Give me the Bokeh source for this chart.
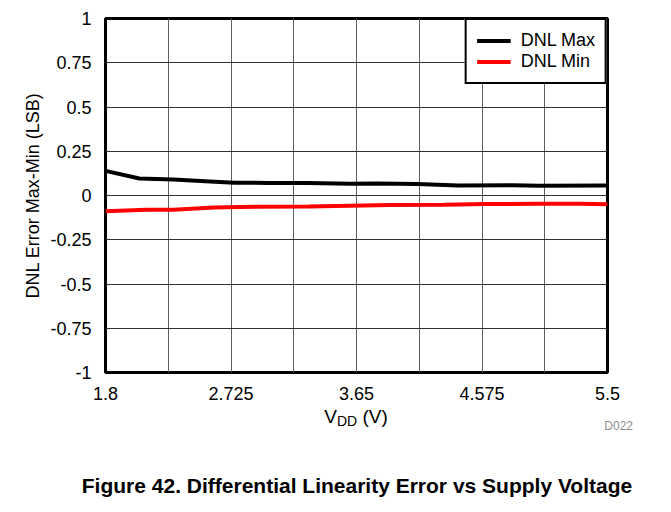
from bokeh.plotting import figure
from bokeh.models import FixedTicker, Legend, LegendItem, Range1d, Div
from bokeh.layouts import column
from bokeh.embed import file_html
from bokeh.resources import INLINE

# ---- data ----
vdd_max = [1.8, 2.05, 2.3, 2.5, 2.75, 3.0, 3.3, 3.6, 3.8, 4.1, 4.4, 4.8, 5.0, 5.5]
dnl_max = [0.139, 0.096, 0.090, 0.082, 0.072, 0.071, 0.070, 0.066, 0.068, 0.065, 0.057, 0.058, 0.055, 0.056]
vdd_min = [1.8, 2.1, 2.3, 2.6, 2.9, 3.3, 3.6, 3.9, 4.3, 4.6, 5.0, 5.3, 5.5]
dnl_min = [-0.089, -0.080, -0.080, -0.068, -0.063, -0.062, -0.058, -0.054, -0.052, -0.048, -0.047, -0.046, -0.050]

x_labels = [1.8, 2.725, 3.65, 4.575, 5.5]
x_grid = [1.8, 2.2625, 2.725, 3.1875, 3.65, 4.1125, 4.575, 5.0375, 5.5]
y_ticks = [-1, -0.75, -0.5, -0.25, 0, 0.25, 0.5, 0.75, 1]

title_text = "Figure 42. Differential Linearity Error vs Supply Voltage"
y_title = "DNL Error Max-Min (LSB)"
series_names = ["DNL Max", "DNL Min"]
fig_code = "D022"

FONT = "Liberation Sans"

p = figure(width=655, height=402, output_backend="svg", toolbar_location=None,
           x_range=Range1d(1.8, 5.5), y_range=Range1d(-1, 1),
           frame_width=502, frame_height=354,
           min_border_left=105, min_border_top=18, min_border_right=48, min_border_bottom=30)
p.margin = 0

p.background_fill_color = "white"
p.border_fill_color = "white"
p.outline_line_color = "black"
p.outline_line_width = 3

p.xaxis.ticker = FixedTicker(ticks=x_labels, minor_ticks=x_grid)
p.yaxis.ticker = FixedTicker(ticks=y_ticks)
p.xaxis.major_label_overrides = {v: str(v) for v in x_labels}
p.yaxis.major_label_overrides = {-1: "-1", -0.75: "-0.75", -0.5: "-0.5", -0.25: "-0.25", 0: "0",
                                 0.25: "0.25", 0.5: "0.5", 0.75: "0.75", 1: "1"}

for ax in (p.xaxis, p.yaxis):
    ax.axis_line_color = None
    ax.major_tick_line_color = None
    ax.minor_tick_line_color = None
    ax.major_label_text_font = FONT
    ax.major_label_text_font_size = "18px"
    ax.major_label_text_color = "black"

p.xaxis.major_label_standoff = 8
p.yaxis.major_label_standoff = 8

p.yaxis.axis_label = y_title
p.yaxis.axis_label_text_font = FONT
p.yaxis.axis_label_text_font_size = "18px"
p.yaxis.axis_label_text_font_style = "normal"
p.yaxis.axis_label_text_color = "black"
p.yaxis.axis_label_standoff = 4

p.xgrid.grid_line_color = None
p.xgrid.minor_grid_line_color = "#606060"
p.xgrid.minor_grid_line_width = 1
p.ygrid.grid_line_color = "#303030"
p.ygrid.grid_line_width = 1

r_max = p.line(vdd_max, dnl_max, line_color="black", line_width=4)
r_min = p.line(vdd_min, dnl_min, line_color="#ff0000", line_width=4)

legend = Legend(items=[LegendItem(label=series_names[0], renderers=[r_max]),
                       LegendItem(label=series_names[1], renderers=[r_min])],
                location="top_right")
legend.label_text_font = FONT
legend.label_text_font_size = "18px"
legend.label_text_color = "black"
legend.label_height = 21
legend.glyph_height = 21
legend.glyph_width = 34
legend.label_standoff = 10
legend.padding = 10
legend.spacing = 0
legend.margin = 0
legend.border_line_color = "black"
legend.border_line_alpha = 1
legend.border_line_width = 2.5
legend.background_fill_alpha = 1
p.add_layout(legend)

html = f"""
<div style="position:relative; width:655px; height:94px; font-family:'Liberation Sans', Arial, sans-serif; color:black; background:white;">
  <div style="position:absolute; left:105px; width:502px; top:5px; text-align:center; font-size:19px; line-height:1; white-space:nowrap;">V<span style="font-size:14px; position:relative; top:3px;">DD</span> (V)</div>
  <div style="position:absolute; left:0px; width:633px; top:18px; text-align:right; font-size:12px; line-height:1; color:#8c8c8c;">{fig_code}</div>
  <div style="position:absolute; left:0px; width:714px; top:73px; text-align:center; font-size:21px; line-height:1; font-weight:bold; white-space:nowrap;">{title_text}</div>
</div>
"""
div = Div(text=html, width=655, height=94)
div.margin = 0

layout = column(p, div, spacing=0)
layout.margin = 0

open("out.html", "w").write(file_html(layout, INLINE))
